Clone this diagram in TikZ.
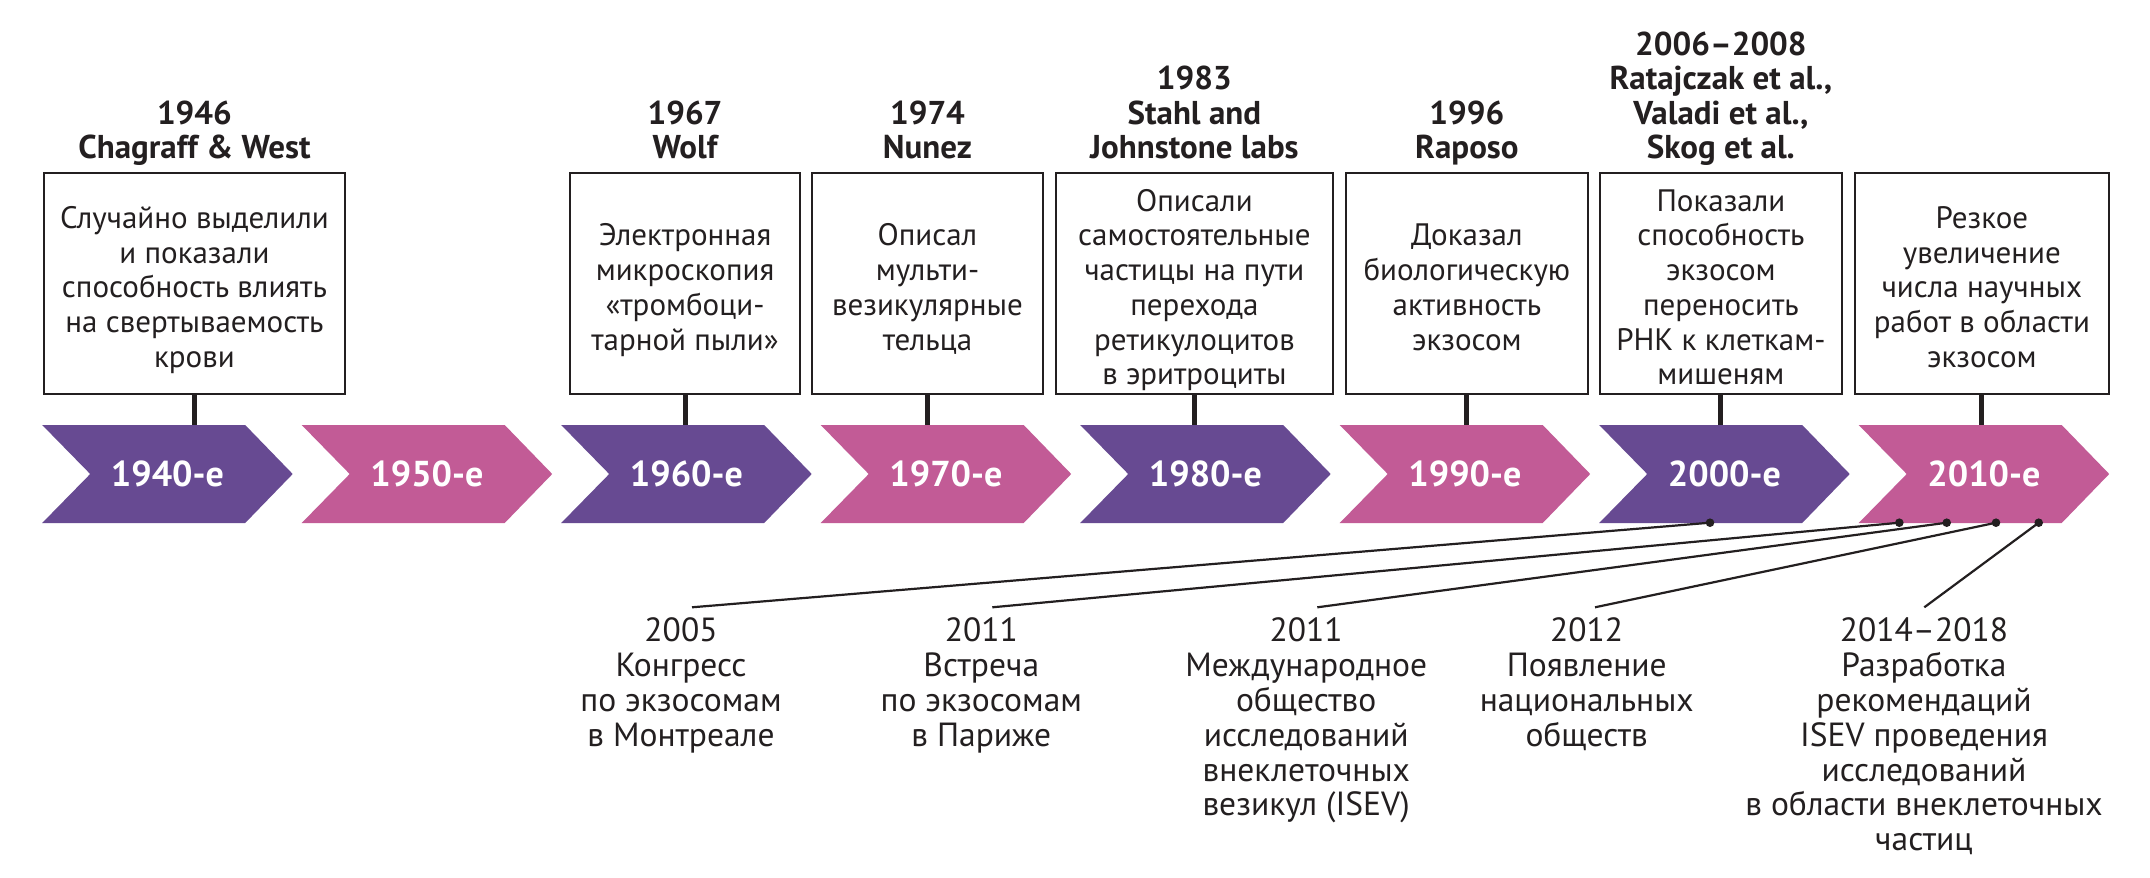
\documentclass[tikz,border=0pt]{standalone}
\usepackage{fontspec}
\setmainfont{PT Sans}
\definecolor{evpurple}{HTML}{674A92}
\definecolor{evpink}{HTML}{C25B96}
\definecolor{evink}{HTML}{231F20}
\newcommand\tlfont{\bfseries\fontsize{33}{34.3}\selectfont}
\newcommand\bxfont{\fontsize{31}{34.7}\selectfont}
\newcommand\chfont{\bfseries\fontsize{36}{40}\selectfont}
\newcommand\btfont{\fontsize{33.5}{34.8}\selectfont}
\newcommand\fl{\rule{0pt}{28pt}}
\begin{document}
\begin{tikzpicture}[x=1pt,y=-1pt,
  evbox/.style={draw=evink, line width=2pt, minimum width=#1, minimum height=221pt, inner sep=0pt},
  ttl/.style={font=\tlfont, text=evink, align=center, anchor=north, inner sep=0pt},
  bxt/.style={font=\bxfont, text=evink, align=center, anchor=north, inner sep=0pt},
  bot/.style={font=\btfont, text=evink, align=center, anchor=north, inner sep=0pt},
  chl/.style={font=\chfont, text=white, anchor=base, inner sep=0pt},
  stem/.style={draw=evink, line width=5pt},
  conn/.style={draw=evink, line width=2.2pt},
  dot/.style={circle, fill=evink, inner sep=0pt, minimum size=8.6pt}]
\fill[white] (0,0) rectangle (2150,878);
\useasboundingbox (0,0) rectangle (2150,878);

% chevrons
\fill[evpurple] (42.2,425) -- ++(203,0) -- ++(47.5,49) -- ++(-47.5,49) -- ++(-203,0) -- ++(48,-49) -- cycle;
\fill[evpink] (301.7,425) -- ++(203,0) -- ++(47.5,49) -- ++(-47.5,49) -- ++(-203,0) -- ++(48,-49) -- cycle;
\fill[evpurple] (561.2,425) -- ++(203,0) -- ++(47.5,49) -- ++(-47.5,49) -- ++(-203,0) -- ++(48,-49) -- cycle;
\fill[evpink] (820.7,425) -- ++(203,0) -- ++(47.5,49) -- ++(-47.5,49) -- ++(-203,0) -- ++(48,-49) -- cycle;
\fill[evpurple] (1080.2,425) -- ++(203,0) -- ++(47.5,49) -- ++(-47.5,49) -- ++(-203,0) -- ++(48,-49) -- cycle;
\fill[evpink] (1339.7,425) -- ++(203,0) -- ++(47.5,49) -- ++(-47.5,49) -- ++(-203,0) -- ++(48,-49) -- cycle;
\fill[evpurple] (1599.2,425) -- ++(203,0) -- ++(47.5,49) -- ++(-47.5,49) -- ++(-203,0) -- ++(48,-49) -- cycle;
\fill[evpink] (1858.7,425) -- ++(203,0) -- ++(47.5,49) -- ++(-47.5,49) -- ++(-203,0) -- ++(48,-49) -- cycle;

\node[chl] (c1) at (167.4,486.7) {1940-е};
\node[chl] (c2) at (426.9,486.7) {1950-е};
\node[chl] (c3) at (686.4,486.7) {1960-е};
\node[chl] (c4) at (945.9,486.7) {1970-е};
\node[chl] (c5) at (1205.4,486.7) {1980-е};
\node[chl] (c6) at (1464.9,486.7) {1990-е};
\node[chl] (c7) at (1724.4,486.7) {2000-е};
\node[chl] (c8) at (1983.9,486.7) {2010-е};

\coordinate (chtop) at (0,425);

% boxes
\node[evbox=301.7pt] (b1) at (194.45,283.8) {};
\node[evbox=229.4pt] (b2) at (685,283.8) {};
\node[evbox=230.4pt] (b3) at (927.5,283.8) {};
\node[evbox=277.8pt] (b4) at (1194.4,283.8) {};
\node[evbox=241.2pt] (b5) at (1466.9,283.8) {};
\node[evbox=241.3pt] (b6) at (1720.9,283.8) {};
\node[evbox=253.3pt] (b7) at (1981.9,283.8) {};

\foreach \b in {b1,b2,b3,b4,b5,b6,b7}
  \draw[stem] (\b.south) -- (\b.south |- chtop);

% titles
\node[ttl] (h1) at (194.45,96) {\fl 1946\\Chagraff \& West};
\node[ttl] (h2) at (685,96) {\fl 1967\\Wolf};
\node[ttl] (h3) at (927.5,96) {\fl 1974\\Nunez};
\node[ttl] (h4) at (1194.4,61.7) {\fl 1983\\Stahl and\\Johnstone labs};
\node[ttl] (h5) at (1466.9,96) {\fl 1996\\Raposo};
\node[ttl] (h6) at (1720.9,27.4) {\fl 2006–2008\\Ratajczak et al.,\\Valadi et al.,\\Skog et al.};

% box texts
\node[bxt] (t1) at (194.45,200.35) {\fl Случайно выделили\\и показали\\способность влиять\\на свертываемость\\крови};
\node[bxt] (t2) at (685,217.7) {\fl Электронная\\микроскопия\\«тромбоци-\\тарной пыли»};
\node[bxt] (t3) at (927.5,217.7) {\fl Описал\\мульти-\\везикулярные\\тельца};
\node[bxt] (t4) at (1194.4,183) {\fl Описали\\самостоятельные\\частицы на пути\\перехода\\ретикулоцитов\\в эритроциты};
\node[bxt] (t5) at (1466.9,217.7) {\fl Доказал\\биологическую\\активность\\экзосом};
\node[bxt] (t6) at (1720.9,183) {\fl Показали\\способность\\экзосом\\переносить\\РНК к клеткам-\\мишеням};
\node[bxt] (t7) at (1981.9,200.35) {\fl Резкое\\увеличение\\числа научных\\работ в области\\экзосом};

% dots and connectors
\node[dot] (d1) at (1710,522.7) {};
\node[dot] (d2) at (1899.3,522.7) {};
\node[dot] (d3) at (1946.7,522.7) {};
\node[dot] (d4) at (1996,522.7) {};
\node[dot] (d5) at (2038.7,522.7) {};
\coordinate (e1) at (692,607.3);
\coordinate (e2) at (992.3,607.3);
\coordinate (e3) at (1317.3,607.3);
\coordinate (e4) at (1595,607.3);
\coordinate (e5) at (1924.3,607.3);
\draw[conn] (d1.center) -- (e1);
\draw[conn] (d2.center) -- (e2);
\draw[conn] (d3.center) -- (e3);
\draw[conn] (d4.center) -- (e4);
\draw[conn] (d5.center) -- (e5);

% bottom texts
\node[bot] (n1) at (681,613.7) {\fl 2005\\Конгресс\\по экзосомам\\в Монтреале};
\node[bot] (n2) at (981.3,613.7) {\fl 2011\\Встреча\\по экзосомам\\в Париже};
\node[bot] (n3) at (1306.2,613.7) {\fl 2011\\Международное\\общество\\исследований\\внеклеточных\\везикул (ISEV)};
\node[bot] (n4) at (1586.7,613.7) {\fl 2012\\Появление\\национальных\\обществ};
\node[bot] (n5) at (1924,613.7) {\fl 2014–2018\\Разработка\\рекомендаций\\ISEV проведения\\исследований\\в области внеклеточных\\частиц};
\end{tikzpicture}
\end{document}
